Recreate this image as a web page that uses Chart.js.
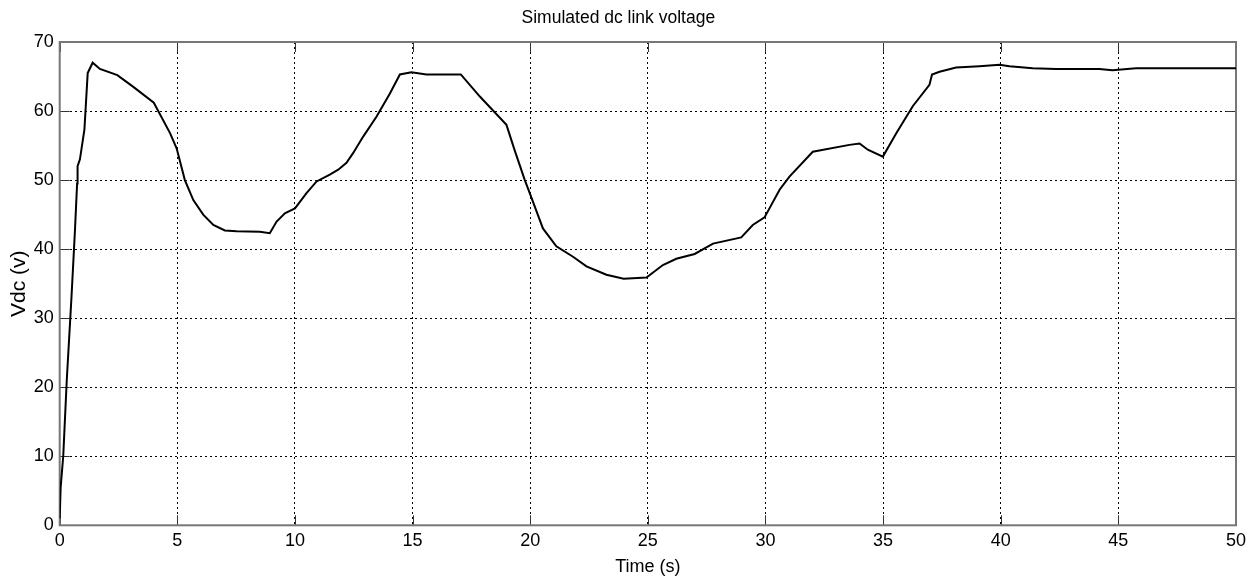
<!DOCTYPE html>
<html>
<head>
<meta charset="utf-8">
<script src="https://cdn.jsdelivr.net/npm/chart.js@4/dist/chart.umd.min.js"></script>
<style>
html,body{margin:0;padding:0;background:#fff;}
#wrap{width:1251px;height:581px;position:relative;}
</style>
</head>
<body>
<div id="wrap"><canvas id="c" width="1251" height="581"></canvas></div>
<script>
const titleText = "Simulated dc link voltage";
const xTitle = "Time (s)";
const yTitle = "Vdc (v)";
const xMin = 0, xMax = 50, xStep = 5;
const yMin = 0, yMax = 70, yStep = 10;

const timeValues = [0, 0.04, 0.15, 0.3, 0.5, 0.65, 0.74, 0.76, 0.86, 1.05, 1.19, 1.4, 1.71, 2.45, 3.13, 4.0, 4.69, 4.97,
  5.32, 5.68, 6.1, 6.53, 7.02, 7.52, 8.51, 8.93, 9.22, 9.57, 10.0, 10.49, 10.92, 11.48, 11.84, 12.19, 12.47, 12.9,
  13.47, 14.03, 14.46, 14.95, 15.59, 17.05, 17.86, 18.99, 19.34, 19.77, 19.98, 20.54, 21.11, 21.82, 22.39, 23.24,
  23.97, 24.94, 25.64, 26.21, 26.99, 27.77, 28.97, 29.46, 29.96, 30.6, 31.02, 32.01, 33.57, 34.0, 34.35, 34.99,
  35.56, 36.26, 36.97, 37.08, 37.4, 38.1, 39.1, 39.95, 40.37, 41.36, 42.35, 44.19, 44.75, 45.75, 50];
const vdcValues = [1, 5.5, 10, 21, 33, 42.8, 49.5, 52.0, 53.0, 57.3, 65.5, 67.0, 66.1, 65.2, 63.5, 61.2, 56.8, 54.6,
  50.0, 47.1, 45.0, 43.5, 42.7, 42.6, 42.5, 42.3, 44.0, 45.2, 45.9, 48.1, 49.8, 50.8, 51.5, 52.5, 53.9, 56.3,
  59.2, 62.5, 65.3, 65.6, 65.3, 65.3, 62.1, 58.0, 54.3, 50.0, 48.1, 43.0, 40.4, 38.9, 37.5, 36.3,
  35.7, 35.9, 37.7, 38.6, 39.3, 40.8, 41.7, 43.5, 44.6, 48.6, 50.5, 54.1, 55.1, 55.3, 54.4, 53.4,
  56.8, 60.7, 63.8, 65.3, 65.7, 66.3, 66.5, 66.7, 66.5, 66.2, 66.1, 66.1, 65.9, 66.2, 66.2];

const points = timeValues.map((t, i) => ({x: t, y: vdcValues[i]}));

const font = "'Liberation Sans', Arial, sans-serif";

const framePlugin = {
  id: 'frame',
  beforeDatasetsDraw(chart) {
    const {ctx, chartArea: a, scales} = chart;
    ctx.save();
    ctx.strokeStyle = '#333';
    ctx.lineWidth = 1;
    const tl = 10;
    ctx.beginPath();
    scales.x.ticks.forEach(tk => {
      const px = Math.round(scales.x.getPixelForValue(tk.value)) + 0.5;
      ctx.moveTo(px, a.bottom); ctx.lineTo(px, a.bottom - tl);
      ctx.moveTo(px, a.top); ctx.lineTo(px, a.top + tl);
    });
    scales.y.ticks.forEach(tk => {
      const py = Math.round(scales.y.getPixelForValue(tk.value)) + 0.5;
      ctx.moveTo(a.left, py); ctx.lineTo(a.left + tl, py);
      ctx.moveTo(a.right, py); ctx.lineTo(a.right - tl, py);
    });
    ctx.stroke();
    ctx.strokeStyle = '#777';
    ctx.lineWidth = 2;
    ctx.strokeRect(a.left, a.top, a.right - a.left, a.bottom - a.top);
    ctx.restore();
  }
};

new Chart(document.getElementById('c'), {
  type: 'scatter',
  data: {
    datasets: [{
      data: points,
      showLine: true,
      borderColor: '#000',
      borderWidth: 2,
      pointRadius: 0,
      tension: 0,
      fill: false
    }]
  },
  options: {
    responsive: false,
    animation: false,
    layout: {padding: {left: 0, right: 14.3, top: 0, bottom: 0}},
    plugins: {
      legend: {display: false},
      tooltip: {enabled: false},
      title: {
        display: true,
        text: titleText,
        color: '#000',
        font: {family: font, size: 17.5, weight: 'normal'},
        padding: {top: 8, bottom: 13}
      }
    },
    scales: {
      x: {
        type: 'linear',
        min: xMin, max: xMax,
        afterFit(s) { s.height = 55.7; },
        ticks: {stepSize: xStep, color: '#000', padding: 5, maxRotation: 0,
          font: {family: font, size: 18}},
        grid: {color: '#000', lineWidth: 1, drawTicks: false},
        border: {display: false, dash: [2, 3]},
        title: {display: true, text: xTitle, color: '#000',
          font: {family: font, size: 18}, padding: {top: 0, bottom: 3}}
      },
      y: {
        type: 'linear',
        min: yMin, max: yMax,
        afterFit(s) { s.width = 59.7; },
        ticks: {stepSize: yStep, color: '#000', padding: 6,
          font: {family: font, size: 18}},
        grid: {color: '#000', lineWidth: 1, drawTicks: false},
        border: {display: false, dash: [2, 3]},
        title: {display: true, text: yTitle, color: '#000',
          font: {family: font, size: 21}, padding: {top: 7, bottom: 0}}
      }
    }
  },
  plugins: [framePlugin]
});
</script>
</body>
</html>
